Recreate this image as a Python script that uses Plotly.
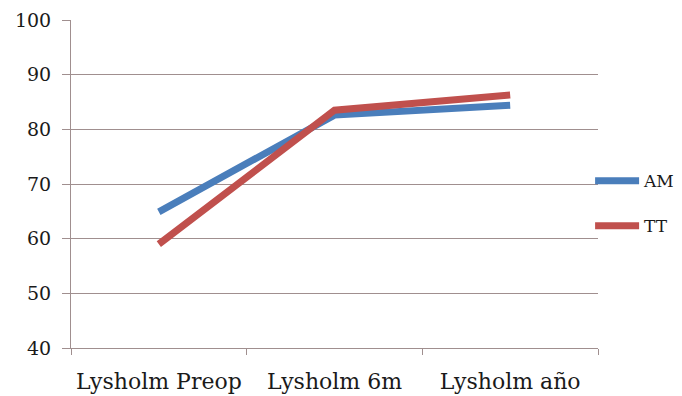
import plotly.graph_objects as go

# Lysholm knee score by follow-up point, two surgical groups
categories = ["Lysholm Preop", "Lysholm 6m", "Lysholm año"]
am_scores = [64.9, 82.6, 84.4]
tt_scores = [59.0, 83.5, 86.3]
y_ticks = [40, 50, 60, 70, 80, 90, 100]

grid_color = "#a08f8f"
font_family = "DejaVu Serif"

fig = go.Figure()
fig.add_trace(go.Scatter(
    x=categories, y=am_scores, name="AM", mode="lines",
    line=dict(color="#4a7ebb", width=7), legendgroup="am",
))
fig.add_trace(go.Scatter(
    x=categories, y=tt_scores, name="TT", mode="lines",
    line=dict(color="#c0504d", width=7), legendgroup="tt",
))

fig.update_layout(
    width=682, height=396,
    margin=dict(l=71, r=84, t=20, b=48, autoexpand=False),
    paper_bgcolor="white", plot_bgcolor="white",
    font=dict(family=font_family, color="#1a1a1a"),
    showlegend=True,
    legend=dict(
        x=0.985, y=0.44, xanchor="left", yanchor="middle",
        font=dict(size=17, family=font_family),
        tracegroupgap=20, bgcolor="rgba(0,0,0,0)",
        itemwidth=44,
    ),
    xaxis=dict(
        type="category", range=[-0.5, 2.5],
        showgrid=False, showline=True, linecolor=grid_color, linewidth=1,
        ticks="outside", tickson="boundaries", ticklen=6, tickcolor=grid_color,
        tickfont=dict(size=22, family=font_family),
        tickangle=0, automargin=False,
        ticklabelstandoff=14,
    ),
    yaxis=dict(
        range=[40, 100], tickvals=y_ticks,
        showgrid=True, gridcolor=grid_color, gridwidth=1,
        showline=True, linecolor=grid_color, linewidth=1,
        ticks="outside", ticklen=8, tickcolor=grid_color,
        tickfont=dict(size=19, family=font_family),
        ticklabelstandoff=7, automargin=False,
        zeroline=False,
    ),
)

fig.write_html("out.html")
